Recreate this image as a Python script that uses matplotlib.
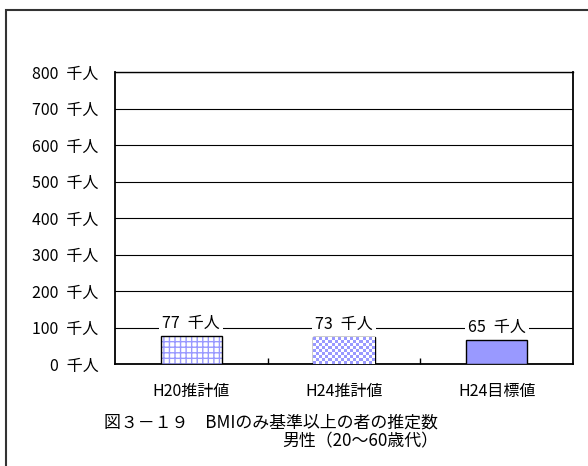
import numpy as np
import matplotlib
matplotlib.use("Agg")
import matplotlib.pyplot as plt
from matplotlib.patches import Rectangle

plt.rcParams['font.family'] = ['Noto Sans CJK JP', 'DejaVu Sans']

categories = ['H20推計値', 'H24推計値', 'H24目標値']
values = [77, 73, 65]
value_labels = ['77\u2002千人', '73\u2002千人', '65\u2002千人']
y_ticks = [0, 100, 200, 300, 400, 500, 600, 700, 800]
y_tick_labels = [f'{v}\u2002千人' for v in y_ticks]
title_line1 = '図３－１９　BMIのみ基準以上の者の推定数'
title_line2 = '男性（20～60歳代）'

BLUE = '#9999ff'
W, H, DPI = 588, 466, 100
FS = 11.5

fig = plt.figure(figsize=(W / DPI, H / DPI), dpi=DPI)
ax = fig.add_axes([115 / W, (H - 364) / H, (573 - 115) / W, (364 - 72) / H])

x = np.arange(len(categories))
bars = ax.bar(x, values, width=0.4, color='white', edgecolor='black',
              linewidth=1.0, zorder=3)

ax.set_xlim(-0.5, len(categories) - 0.5)
ax.set_ylim(0, 800)

# first bar: blue lattice
plt.rcParams['hatch.linewidth'] = 2.0
bars[0].set_hatch('+++')
bars[0].set_edgecolor(BLUE)
bars[0].set_linewidth(0)
ax.bar(x[0], values[0], width=0.4, fill=False, edgecolor='black',
       linewidth=1.0, zorder=4)

# second bar: fine checkerboard clipped to the bar
b = bars[1]
fig.canvas.draw()
ext = b.get_window_extent()
cell = 3.0
nc = max(1, int(round(ext.width / cell)))
nr = max(1, int(round(ext.height / cell)))
checker = (np.add.outer(np.arange(nr), np.arange(nc)) % 2).astype(float)
cmap = matplotlib.colors.ListedColormap([BLUE, 'white'])
im = ax.imshow(checker, cmap=cmap, interpolation='nearest', aspect='auto',
               extent=(b.get_x(), b.get_x() + b.get_width(), 0, b.get_height()),
               zorder=3.5)
im.set_clip_path(b)

# third bar: solid fill
bars[2].set_facecolor(BLUE)

ax.set_yticks(y_ticks)
ax.set_yticklabels(y_tick_labels, fontsize=FS)
ax.tick_params(axis='y', length=0, pad=12)
ax.set_xticks(x)
ax.set_xticklabels(categories, fontsize=FS)
ax.tick_params(axis='x', which='major', length=0, pad=14)
ax.set_xticks(x[:-1] + 0.5, minor=True)
ax.tick_params(axis='x', which='minor', direction='in', length=4, width=1)

ax.grid(axis='y', color='black', linewidth=0.8, zorder=1)
ax.set_axisbelow(True)
for s in ax.spines.values():
    s.set_color('black')
    s.set_linewidth(1.3)
ax.spines['top'].set_linewidth(1.0)

for xi, v, lab in zip(x, values, value_labels):
    ax.annotate(lab, (xi, v), xytext=(0, 3), textcoords='offset points',
                ha='center', va='bottom', fontsize=FS, zorder=5,
                bbox=dict(boxstyle='square,pad=0.2', fc='white', ec='none'))

fig.text(438 / W, 1 - 422 / H, title_line1, ha='right', va='center', fontsize=12.2)
fig.text(438 / W, 1 - 441 / H, title_line2, ha='right', va='center', fontsize=12.2)

fig.patches.append(Rectangle((6 / W, -0.02), 1.0, (H - 10) / H + 0.02,
                             transform=fig.transFigure, fill=False,
                             edgecolor='#333333', linewidth=1.5))

fig.savefig('out.png', dpi=DPI)
